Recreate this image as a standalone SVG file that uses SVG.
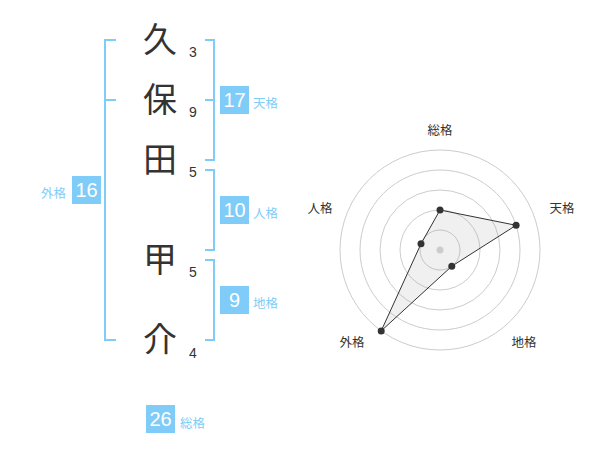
<svg xmlns="http://www.w3.org/2000/svg" width="600" height="470" viewBox="0 0 600 470">
<style>
.kanji{font-family:"Noto Sans CJK JP","Noto Sans CJK SC",sans-serif;font-size:34px;fill:#333;text-anchor:middle}
.num{font-family:"Liberation Sans",Arial,sans-serif;font-size:14px;fill:#333;text-anchor:middle}
.br{fill:none;stroke:#80ccf8;stroke-width:2}
.box{fill:#80ccf8}
.bn{font-family:"Liberation Sans",Arial,sans-serif;font-size:20px;fill:#fff;text-anchor:middle}
.bl{font-family:"Noto Sans CJK JP","Noto Sans CJK SC",sans-serif;font-size:12.5px;fill:#80ccf8}
.ring{fill:none;stroke:#ccc;stroke-width:1}
.rl{font-family:"Noto Sans CJK JP","Noto Sans CJK SC",sans-serif;font-size:12.5px;fill:#333;text-anchor:middle}
.pt{fill:#333}
</style>
<g id="name">
<g id="c1"><text class="kanji" x="160" y="52">久</text><text class="num" x="193" y="57">3</text></g>
<g id="c2"><text class="kanji" x="160" y="112">保</text><text class="num" x="193" y="117">9</text></g>
<g id="c3"><text class="kanji" x="160" y="172">田</text><text class="num" x="193" y="177">5</text></g>
<g id="c4"><text class="kanji" x="160" y="272">甲</text><text class="num" x="193" y="277">5</text></g>
<g id="c5"><text class="kanji" x="160" y="352">介</text><text class="num" x="193" y="358">4</text></g>
</g>
<g id="connectors">
<path class="br" d="M116,40 H105 V340 H116 M105,100 H116"/>
<path class="br" d="M205,40 H214 V160 H205 M214,100 H205"/>
<path class="br" d="M205,170 H214 V250 H205"/>
<path class="br" d="M205,260 H214 V340 H205"/>
</g>
<g id="gaikaku"><rect class="box" x="72" y="176" width="29" height="28"/><text class="bn" x="86.5" y="197">16</text><text class="bl" x="66" y="198" text-anchor="end">外格</text></g>
<g id="tenkaku"><rect class="box" x="220" y="86" width="29" height="28"/><text class="bn" x="234.5" y="107">17</text><text class="bl" x="253" y="108">天格</text></g>
<g id="jinkaku"><rect class="box" x="220" y="196" width="29" height="28"/><text class="bn" x="234.5" y="217">10</text><text class="bl" x="253" y="218">人格</text></g>
<g id="chikaku"><rect class="box" x="220" y="286" width="29" height="28"/><text class="bn" x="234.5" y="307">9</text><text class="bl" x="253" y="308">地格</text></g>
<g id="soukaku"><rect class="box" x="146" y="405" width="29" height="28"/><text class="bn" x="160.5" y="426">26</text><text class="bl" x="180" y="428">総格</text></g>
<g id="radar">
<circle class="ring" cx="440" cy="250" r="20"/>
<circle class="ring" cx="440" cy="250" r="40"/>
<circle class="ring" cx="440" cy="250" r="60"/>
<circle class="ring" cx="440" cy="250" r="80"/>
<circle class="ring" cx="440" cy="250" r="100"/>
<polygon points="440,210 516.1,225.3 451.8,266.2 381.2,330.9 421,243.8" fill="#999" fill-opacity="0.15" stroke="#333" stroke-width="1"/>
<circle cx="440" cy="250" r="3.5" fill="#ccc"/>
<circle class="pt" cx="440" cy="210" r="3.5"/>
<circle class="pt" cx="516.1" cy="225.3" r="3.5"/>
<circle class="pt" cx="451.8" cy="266.2" r="3.5"/>
<circle class="pt" cx="381.2" cy="330.9" r="3.5"/>
<circle class="pt" cx="421" cy="243.8" r="3.5"/>
<text class="rl" x="440" y="135">総格</text>
<text class="rl" x="562" y="213">天格</text>
<text class="rl" x="320" y="213">人格</text>
<text class="rl" x="352" y="347">外格</text>
<text class="rl" x="524" y="347">地格</text>
</g>
</svg>
